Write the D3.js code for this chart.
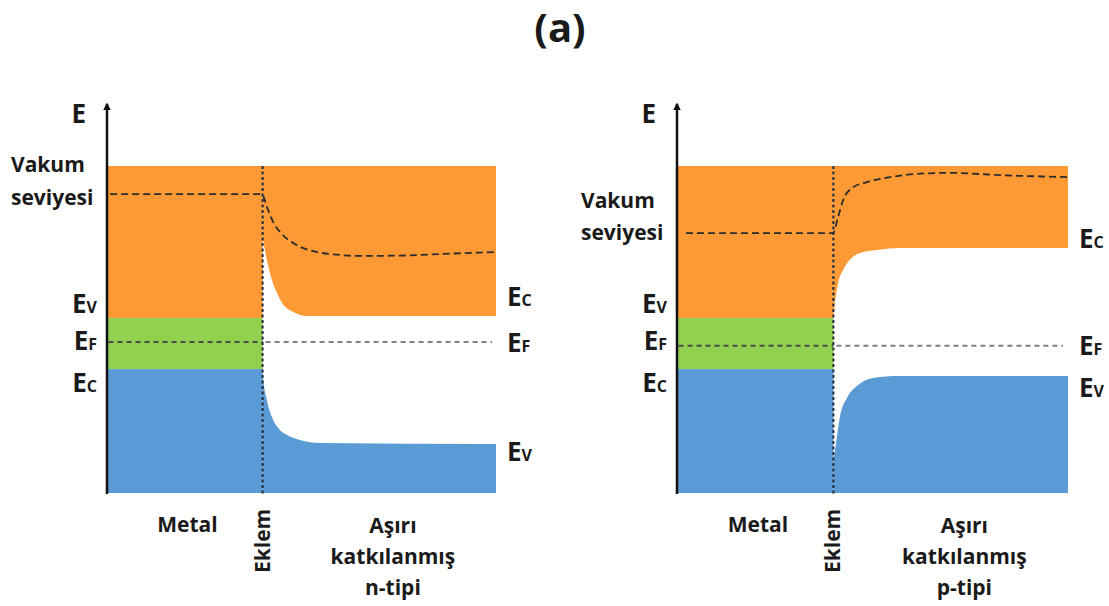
<!DOCTYPE html>
<html>
<head>
<meta charset="utf-8">
<script src="https://cdn.jsdelivr.net/npm/d3@7"></script>
<style>
  body { margin: 0; background: #fff; }
  svg text { font-family: "Open Sans", "Lato", sans-serif; font-weight: 700; fill: #1a1a1a; }
</style>
</head>
<body>
<div id="chart"></div>
<script>
// energy in arbitrary units (0 = bottom of the drawing, 100 = top of the bands)
// distance in arbitrary units (0 = axis, 40 = junction, 100 = end of semiconductor)
const junction = 40;
const bandTop = 100;

// metal side: orange/green edge, green/blue edge
const nMetalEdges = [53.5, 37.9];
const pMetalEdges = [53.5, 37.9];
const nFermi = 46.2;
const pFermi = 45.0;

// n-type panel curves [distance, energy]
const nVacuum = [[0.8, 91.4], [39.8, 91.4], [41.1, 87.5], [42.7, 82.9], [45.2, 78.9], [48.8, 75.8], [54, 73.7], [59.9, 72.8], [64.3, 72.5], [75.3, 72.6], [88.2, 73.2], [100, 73.7]];
const nConduction = [[40, 78.3], [41.1, 71.3], [42.4, 65.1], [43.7, 61.2], [45.2, 57.8], [47.8, 55.4], [51.4, 54.1], [100, 54.1]];
const nValence = [[40, 37.9], [40.2, 34.6], [41.1, 28.4], [42.4, 23.2], [44, 19.9], [46.3, 17.7], [49.6, 16.2], [54.8, 15.3], [100, 15]];

// p-type panel curves [distance, energy]
const pVacuum = [[2.3, 79.5], [39.9, 79.5], [41.2, 84.4], [42.5, 89.6], [44.8, 93.3], [48.6, 95.1], [54.5, 96.6], [61.4, 97.6], [69.8, 97.9], [82.6, 97.2], [100, 96.6]];
const pConduction = [[40, 53.5], [40.3, 57], [41.2, 64.2], [42.5, 68.2], [44.2, 71.3], [46.8, 73.4], [51.2, 74.3], [57, 74.9], [100, 74.9]];
const pValence = [[40, 10], [40.4, 13], [41.7, 23.5], [43.5, 29.1], [46, 32.7], [50.1, 35.2], [57, 35.8], [100, 35.8]];

// labels
const metalLabels = ["V", "F", "C"];            // left side: Ev, EF, Ec
const nRightLabels = ["C", "F", "V"];           // right side of n-type panel
const pRightLabels = ["C", "F", "V"];
const regionNames = ["Metal", "Eklem"];
const nSemiName = ["Aşırı", "katkılanmış", "n-tipi"];
const pSemiName = ["Aşırı", "katkılanmış", "p-tipi"];

const colors = { orange: "#FD9A35", green: "#92D050", blue: "#5B9BD5" };

const width = 1109, height = 606;
const svg = d3.select("#chart").append("svg")
    .attr("width", width)
    .attr("height", height);

svg.append("defs").append("marker")
    .attr("id", "arrow")
    .attr("viewBox", "0 -5 10 10")
    .attr("refX", 8)
    .attr("markerWidth", 3)
    .attr("markerHeight", 3.4)
    .attr("orient", "auto")
    .append("path")
    .attr("d", "M0,-5L10,0L0,5Z")
    .attr("fill", "#111");

svg.append("text")
    .attr("x", 560)
    .attr("y", 42)
    .attr("text-anchor", "middle")
    .attr("font-size", 40)
    .text("(a)");

const y = d3.scaleLinear().domain([0, bandTop]).range([493, 166]);

drawPanel({
    x: d3.scaleLinear().domain([0, 100]).range([107, 496]),
    metal: nMetalEdges, fermi: nFermi, fermiEnd: 99,
    vacuum: nVacuum, conduction: nConduction, valence: nValence,
    rightLabels: nRightLabels, rightY: [306, 352, 461],
    vakumY: [172, 205], semiName: nSemiName
});

drawPanel({
    x: d3.scaleLinear().domain([0, 100]).range([677, 1068]),
    metal: pMetalEdges, fermi: pFermi, fermiEnd: 98.7,
    vacuum: pVacuum, conduction: pConduction, valence: pValence,
    rightLabels: pRightLabels, rightY: [248, 355, 397],
    vakumY: [208, 240], semiName: pSemiName
});

function drawPanel(p) {
    const x = p.x;
    const g = svg.append("g");

    // metal bands
    const metalBands = [
        { top: bandTop, bottom: p.metal[0], color: colors.orange },
        { top: p.metal[0], bottom: p.metal[1], color: colors.green },
        { top: p.metal[1], bottom: 0, color: colors.blue }
    ];
    g.selectAll("rect.metal")
        .data(metalBands)
        .join("rect")
        .attr("class", "metal")
        .attr("x", x(0))
        .attr("y", d => y(d.top))
        .attr("width", x(junction) - x(0))
        .attr("height", d => y(d.bottom) - y(d.top))
        .attr("fill", d => d.color);

    // semiconductor bands
    const upper = d3.area()
        .x(d => x(d[0]))
        .y0(d => y(d[1]))
        .y1(y(bandTop))
        .curve(d3.curveMonotoneX);
    const lower = d3.area()
        .x(d => x(d[0]))
        .y0(y(0))
        .y1(d => y(d[1]))
        .curve(d3.curveMonotoneX);

    g.append("path").attr("d", upper(p.conduction)).attr("fill", colors.orange);
    g.append("path").attr("d", lower(p.valence)).attr("fill", colors.blue);

    // Fermi level
    g.append("line")
        .attr("x1", x(0.4)).attr("x2", x(junction))
        .attr("y1", y(p.fermi)).attr("y2", y(p.fermi))
        .attr("stroke", "#4a4a4a").attr("stroke-width", 2)
        .attr("stroke-dasharray", "5,4");
    g.append("line")
        .attr("x1", x(junction) + 3).attr("x2", x(p.fermiEnd))
        .attr("y1", y(p.fermi)).attr("y2", y(p.fermi))
        .attr("stroke", "#808080").attr("stroke-width", 2)
        .attr("stroke-dasharray", "5,4");

    // vacuum level
    const line = d3.line()
        .x(d => x(d[0]))
        .y(d => y(d[1]))
        .curve(d3.curveMonotoneX);
    g.append("path")
        .attr("d", line(p.vacuum))
        .attr("fill", "none")
        .attr("stroke", "#2b2b2b")
        .attr("stroke-width", 1.8)
        .attr("stroke-dasharray", "7,4");

    // junction
    g.append("line")
        .attr("x1", x(junction)).attr("x2", x(junction))
        .attr("y1", y(bandTop)).attr("y2", y(0) + 2)
        .attr("stroke", "#1f2a3a").attr("stroke-width", 2)
        .attr("stroke-dasharray", "3,2.5");

    // energy axis
    g.append("line")
        .attr("x1", x(0)).attr("x2", x(0))
        .attr("y1", y(0) + 1).attr("y2", 104)
        .attr("stroke", "#111").attr("stroke-width", 2.5)
        .attr("marker-end", "url(#arrow)");

    g.append("text")
        .attr("x", x(0) - 21).attr("y", 123)
        .attr("text-anchor", "end")
        .attr("font-size", 26)
        .text("E");

    // vacuum label
    g.selectAll("text.vakum")
        .data(["Vakum", "seviyesi"])
        .join("text")
        .attr("class", "vakum")
        .attr("x", x(0) - 96)
        .attr("y", (d, i) => p.vakumY[i])
        .attr("font-size", 21)
        .text(d => d);

    // left band labels
    const leftY = [313, 350, 392];
    metalLabels.forEach((s, i) => {
        const t = g.append("text")
            .attr("x", x(0) - 10).attr("y", leftY[i])
            .attr("text-anchor", "end")
            .attr("font-size", 26);
        t.append("tspan").text("E");
        t.append("tspan").attr("font-size", 16).text(s);
    });

    // right band labels
    p.rightLabels.forEach((s, i) => {
        const t = g.append("text")
            .attr("x", x(100) + 11).attr("y", p.rightY[i])
            .attr("font-size", 26);
        t.append("tspan").text("E");
        t.append("tspan").attr("font-size", 16).text(s);
    });

    // region labels
    g.append("text")
        .attr("x", x(20.7)).attr("y", 532)
        .attr("text-anchor", "middle")
        .attr("font-size", 21)
        .text(regionNames[0]);

    g.append("text")
        .attr("transform", `translate(${x(junction) + 7},573) rotate(-90)`)
        .attr("font-size", 21)
        .text(regionNames[1]);

    g.selectAll("text.semi")
        .data(p.semiName)
        .join("text")
        .attr("class", "semi")
        .attr("x", x(73.5))
        .attr("y", (d, i) => 533 + i * 31)
        .attr("text-anchor", "middle")
        .attr("font-size", 21)
        .text(d => d);
}
</script>
</body>
</html>
